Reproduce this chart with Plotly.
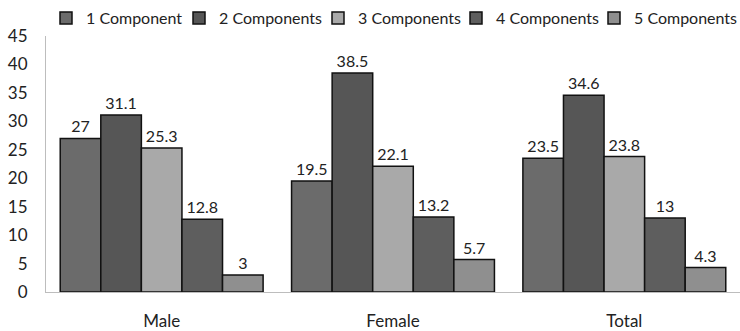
import plotly.graph_objects as go

categories = ["Male", "Female", "Total"]
series_names = ["1 Component", "2 Components", "3 Components", "4 Components", "5 Components"]
v1 = [27, 19.5, 23.5]
v2 = [31.1, 38.5, 34.6]
v3 = [25.3, 22.1, 23.8]
v4 = [12.8, 13.2, 13]
v5 = [3, 5.7, 4.3]
values = [v1, v2, v3, v4, v5]
y_ticks = [0, 5, 10, 15, 20, 25, 30, 35, 40, 45]

colors = ["#6b6b6b", "#565656", "#a9a9a9", "#5e5e5e", "#8f8f8f"]
legend_px = [46, 179, 318, 456, 594]
W, H = 740, 331
FONT = "Lato"

fig = go.Figure()
for i, (name, vals) in enumerate(zip(series_names, values)):
    lg = "legend" if i == 0 else f"legend{i+1}"
    fig.add_trace(go.Bar(
        x=categories, y=vals, name=name,
        marker=dict(color=colors[i], line=dict(color="#111111", width=1.5)),
        text=[f"{v:g}" for v in vals], textposition="outside",
        textfont=dict(size=16, color="#222222", family=FONT),
        cliponaxis=False, legend=lg,
    ))

layout_legends = {}
for i in range(5):
    key = "legend" if i == 0 else f"legend{i+1}"
    layout_legends[key] = dict(
        x=legend_px[i] / W, xref="container", xanchor="left",
        y=1 - 18 / H, yref="container", yanchor="middle",
        orientation="h", itemwidth=30, bgcolor="rgba(0,0,0,0)",
        font=dict(size=16, color="#222222", family=FONT),
        borderwidth=0,
    )

fig.update_layout(
    width=W, height=H,
    margin=dict(l=46, r=0, t=36, b=39, autoexpand=False),
    paper_bgcolor="white", plot_bgcolor="white",
    barmode="group", bargap=0.123, bargroupgap=0,
    font=dict(family=FONT, size=16, color="#222222"),
    showlegend=True,
    **layout_legends,
)
fig.update_xaxes(
    showline=True, linecolor="#bdbdbd", linewidth=1, automargin=False,
    showgrid=False, ticks="", tickfont=dict(size=17, color="#222222"),
    ticklabelstandoff=14,
)
fig.update_yaxes(
    range=[0, 45], tickvals=y_ticks, showline=True, linecolor="#bdbdbd",
    linewidth=1, showgrid=False, zeroline=False, ticks="", automargin=False,
    tickfont=dict(size=17, color="#222222"), ticklabelstandoff=14,
)

fig.write_html(
    "out.html",
    config={"displayModeBar": False},
    post_script="document.body.style.margin='0';",
)
